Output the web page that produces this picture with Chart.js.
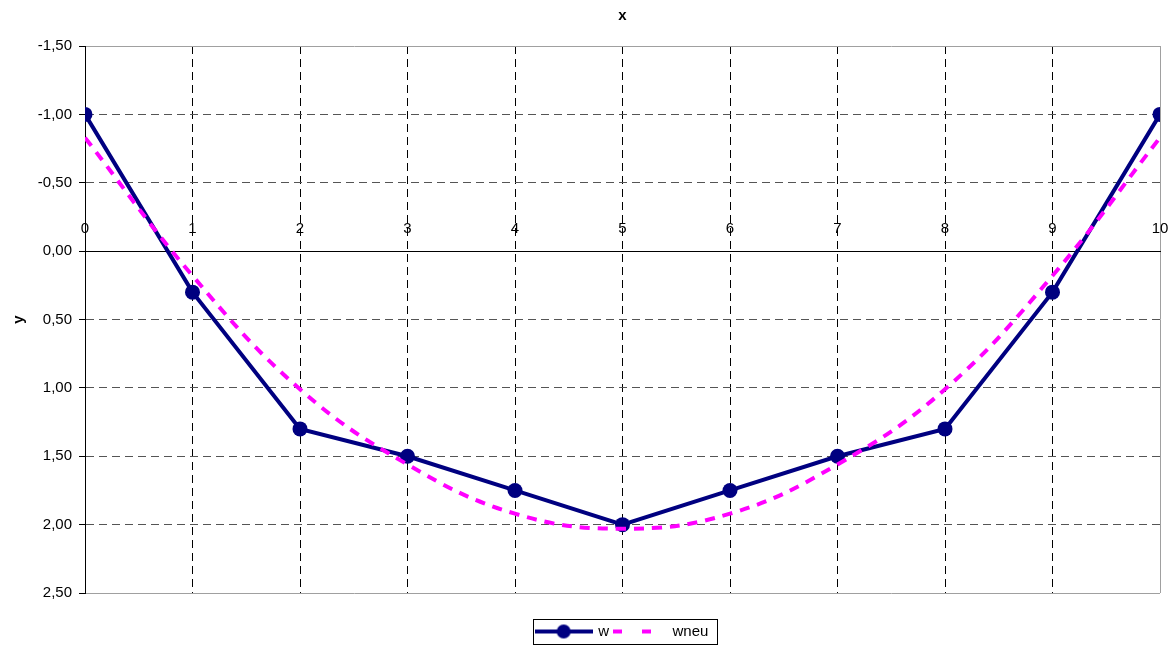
<!DOCTYPE html>
<html><head><meta charset="utf-8">
<script src="https://cdn.jsdelivr.net/npm/chart.js@4"></script>
<style>html,body{margin:0;padding:0;background:#fff}</style>
</head><body>
<canvas id="c" width="1176" height="645"></canvas>
<script>
const xValues = [0, 1, 2, 3, 4, 5, 6, 7, 8, 9, 10];
const wValues = [-1.00, 0.30, 1.30, 1.50, 1.75, 2.00, 1.75, 1.50, 1.30, 0.30, -1.00];
const wneuValues = [-0.83, 0.18, 1.01, 1.56, 1.92, 2.03, 1.92, 1.56, 1.01, 0.18, -0.83];
const yTickValues = [-1.5, -1.0, -0.5, 0, 0.5, 1.0, 1.5, 2.0, 2.5];
const xTickValues = [0, 1, 2, 3, 4, 5, 6, 7, 8, 9, 10];
const seriesNames = ['w', 'wneu'];
const xTitle = 'x';
const yTitle = 'y';

const FONT = '"Liberation Sans", Arial, sans-serif';
const NAVY = '#000080';
const MAGENTA = '#ff00ff';

function makeIcon(kind) {
  const c = document.createElement('canvas');
  c.width = 58; c.height = 16;
  const g = c.getContext('2d');
  if (kind === 0) {
    g.strokeStyle = NAVY; g.lineWidth = 4;
    g.beginPath(); g.moveTo(0, 8); g.lineTo(58, 8); g.stroke();
    g.fillStyle = NAVY;
    g.beginPath(); g.arc(29, 8, 7, 0, Math.PI * 2); g.fill();
  } else {
    g.fillStyle = MAGENTA;
    g.fillRect(4, 6, 9, 4);
    g.fillRect(33, 6, 9, 4);
  }
  return c;
}
const icons = [makeIcon(0), makeIcon(1)];

const yMin = yTickValues[0], yMax = yTickValues[yTickValues.length - 1];

const legendBox = {
  id: 'legendBox',
  afterDraw(chart) {
    const hb = chart.legend && chart.legend.legendHitBoxes;
    if (!hb || !hb.length) return;
    const ctx = chart.ctx;
    let l = Infinity, r = -Infinity, t = Infinity, b = -Infinity;
    hb.forEach(h => { l = Math.min(l, h.left); r = Math.max(r, h.left + h.width); t = Math.min(t, h.top); b = Math.max(b, h.top + h.height); });
    ctx.save();
    ctx.strokeStyle = '#000'; ctx.lineWidth = 1;
    ctx.strokeRect(Math.round(l - 4) + 0.5, Math.round(t - 5) + 0.5, Math.round(r - l + 12), Math.round(b - t + 10));
    ctx.restore();
  }
};

new Chart(document.getElementById('c'), {
  type: 'line',
  data: {
    datasets: [
      {
        label: seriesNames[0],
        data: xValues.map((x, i) => ({x, y: wValues[i]})),
        borderColor: NAVY, backgroundColor: NAVY,
        borderWidth: 4, pointRadius: 7.5, pointBorderWidth: 0,
        pointBackgroundColor: NAVY, tension: 0, order: 1
      },
      {
        label: seriesNames[1],
        data: xValues.map((x, i) => ({x, y: wneuValues[i]})),
        borderColor: MAGENTA, backgroundColor: MAGENTA,
        borderWidth: 4, borderDash: [10, 8], pointRadius: 0,
        tension: 0.4, order: 0
      }
    ]
  },
  options: {
    responsive: false,
    animation: false,
    events: [],
    layout: { padding: { left: 0, right: 16, top: 0, bottom: -4 } },
    plugins: {
      tooltip: { enabled: false },
      title: {
        display: true, text: xTitle, fullSize: false,
        color: '#000', font: { family: FONT, size: 15, weight: 'bold' },
        padding: { top: 7, bottom: 21 }
      },
      legend: {
        display: true, position: 'bottom', fullSize: false,
        title: { display: true, text: '', font: { family: FONT, size: 10 }, padding: { top: 17, bottom: 0 } },
        labels: {
          usePointStyle: true, pointStyleWidth: 54,
          color: '#000', font: { family: FONT, size: 15 }, padding: 2,
          generateLabels: () => seriesNames.map((n, i) => ({
            text: n, pointStyle: icons[i], datasetIndex: i, hidden: false,
            fillStyle: 'rgba(0,0,0,0)', strokeStyle: 'rgba(0,0,0,0)', lineWidth: 0, fontColor: '#000'
          }))
        }
      }
    },
    scales: {
      x: {
        type: 'linear', position: { y: 0 },
        min: xTickValues[0], max: xTickValues[xTickValues.length - 1],
        afterBuildTicks: s => { s.ticks = xTickValues.map(v => ({value: v})); },
        ticks: { color: '#000', font: { family: FONT, size: 15 }, padding: -31, maxRotation: 0, autoSkip: false },
        grid: {
          drawTicks: false,
          color: c => (c.tick && c.tick.value === 10) ? '#a0a0a0' : '#000',
          lineWidth: 1
        },
        border: {
          display: true, color: '#000', width: 1,
          dash: c => (c.tick && (c.tick.value === 10 || c.tick.value === 0)) ? [] : [8, 5]
        }
      },
      y: {
        type: 'linear', position: 'left', reverse: true,
        min: yMin, max: yMax,
        afterBuildTicks: s => { s.ticks = yTickValues.map(v => ({value: v})); },
        afterFit: s => { s.width = 85; },
        ticks: {
          color: '#000', font: { family: FONT, size: 15 }, padding: 7,
          callback: v => Number(v).toFixed(2).replace('.', ',')
        },
        title: {
          display: true, text: yTitle, color: '#000',
          font: { family: FONT, size: 15, weight: 'bold' }, padding: { top: 10, bottom: 0 }
        },
        grid: {
          drawTicks: true, tickLength: 6, tickColor: '#000', tickWidth: 1, tickBorderDash: [],
          color: c => {
            const v = c.tick ? c.tick.value : null;
            if (v === yMin || v === yMax) return '#a0a0a0';
            if (v === 0) return '#000';
            return '#555';
          },
          lineWidth: 1
        },
        border: {
          display: true, color: '#000', width: 1,
          dash: c => {
            const v = c.tick ? c.tick.value : null;
            return (v === yMin || v === yMax || v === 0) ? [] : [8, 5];
          }
        }
      }
    }
  },
  plugins: [legendBox]
});
</script>
</body></html>
